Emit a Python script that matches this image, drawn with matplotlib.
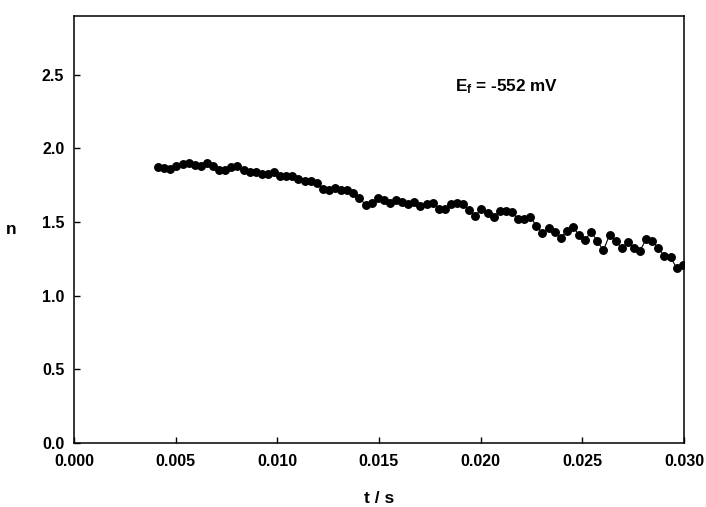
import matplotlib
matplotlib.use('Agg')
import matplotlib.pyplot as plt

plt.rcParams['font.family'] = ['Liberation Sans', 'DejaVu Sans']
plt.rcParams['font.weight'] = 'bold'
plt.rcParams['mathtext.fontset'] = 'custom'
plt.rcParams['mathtext.rm'] = 'Liberation Sans:bold'
plt.rcParams['mathtext.bf'] = 'Liberation Sans:bold'
plt.rcParams['mathtext.it'] = 'Liberation Sans:bold'

# time (s)
t = [0.00414, 0.00444, 0.00474, 0.00504, 0.00534, 0.00564, 0.00594, 0.00624,
     0.00654, 0.00684, 0.00714, 0.00744, 0.00774, 0.00804, 0.00834, 0.00864,
     0.00894, 0.00924, 0.00954, 0.00984, 0.01014, 0.01044, 0.01074, 0.01104,
     0.01134, 0.01164, 0.01194, 0.01224, 0.01254, 0.01284, 0.01314, 0.01344,
     0.01374, 0.01404, 0.01434, 0.01464, 0.01494, 0.01524, 0.01554, 0.01584,
     0.01614, 0.01644, 0.01674, 0.01704, 0.01734, 0.01764, 0.01794, 0.01824,
     0.01854, 0.01884, 0.01914, 0.01944, 0.01974, 0.02004, 0.02034, 0.02064,
     0.02094, 0.02124, 0.02154, 0.02184, 0.02214, 0.02244, 0.02274, 0.02304,
     0.02334, 0.02364, 0.02394, 0.02424, 0.02454, 0.02484, 0.02514, 0.02544,
     0.02574, 0.02604, 0.02634, 0.02664, 0.02694, 0.02724, 0.02754, 0.02784,
     0.02814, 0.02844, 0.02874, 0.02904, 0.02934, 0.02964, 0.02994]

n = [1.873, 1.866, 1.861, 1.882, 1.895, 1.900, 1.889, 1.882, 1.900, 1.882,
     1.850, 1.850, 1.873, 1.877, 1.853, 1.836, 1.836, 1.827, 1.823, 1.836,
     1.814, 1.809, 1.814, 1.791, 1.775, 1.780, 1.764, 1.724, 1.714, 1.734,
     1.719, 1.714, 1.700, 1.662, 1.617, 1.628, 1.662, 1.651, 1.628, 1.646,
     1.639, 1.624, 1.639, 1.610, 1.620, 1.628, 1.590, 1.590, 1.622, 1.628,
     1.622, 1.583, 1.544, 1.590, 1.560, 1.531, 1.576, 1.576, 1.566, 1.520,
     1.520, 1.537, 1.474, 1.425, 1.459, 1.435, 1.391, 1.442, 1.465, 1.413,
     1.379, 1.435, 1.368, 1.308, 1.413, 1.374, 1.323, 1.361, 1.323, 1.306,
     1.384, 1.374, 1.323, 1.270, 1.262, 1.187, 1.209]

xticks = [0.000, 0.005, 0.010, 0.015, 0.020, 0.025, 0.030]
yticks = [0.0, 0.5, 1.0, 1.5, 2.0, 2.5]

fig = plt.figure(figsize=(7.06, 5.07), dpi=100)
ax = fig.add_axes([0.1048, 0.1262, 0.864, 0.8428])

ax.plot(t, n, color='black', linewidth=0.8, marker='o', markersize=5.4)

ax.set_xlim(0, 0.030)
ax.set_ylim(0, 2.9)
ax.set_xticks(xticks)
ax.set_yticks(yticks)
ax.set_xticklabels(['%.3f' % v for v in xticks])
ax.set_yticklabels(['%.1f' % v for v in yticks])
ax.tick_params(direction='in', length=4.5, width=1.0, labelsize=11.5)
ax.tick_params(axis='x', pad=8)
ax.tick_params(axis='y', pad=7)
for s in ax.spines.values():
    s.set_linewidth(1.1)

ax.set_xlabel('t / s', fontsize=12.5, fontweight='bold', labelpad=16)
ax.set_ylabel('n', fontsize=12.5, fontweight='bold', rotation=0,
              va='center', labelpad=22)

ax.text(0.01873, 2.42, r'$\mathbf{E_f}$ = -552 mV', fontsize=12.3,
        fontweight='bold', ha='left', va='center')

fig.savefig('out.png', dpi=100)
